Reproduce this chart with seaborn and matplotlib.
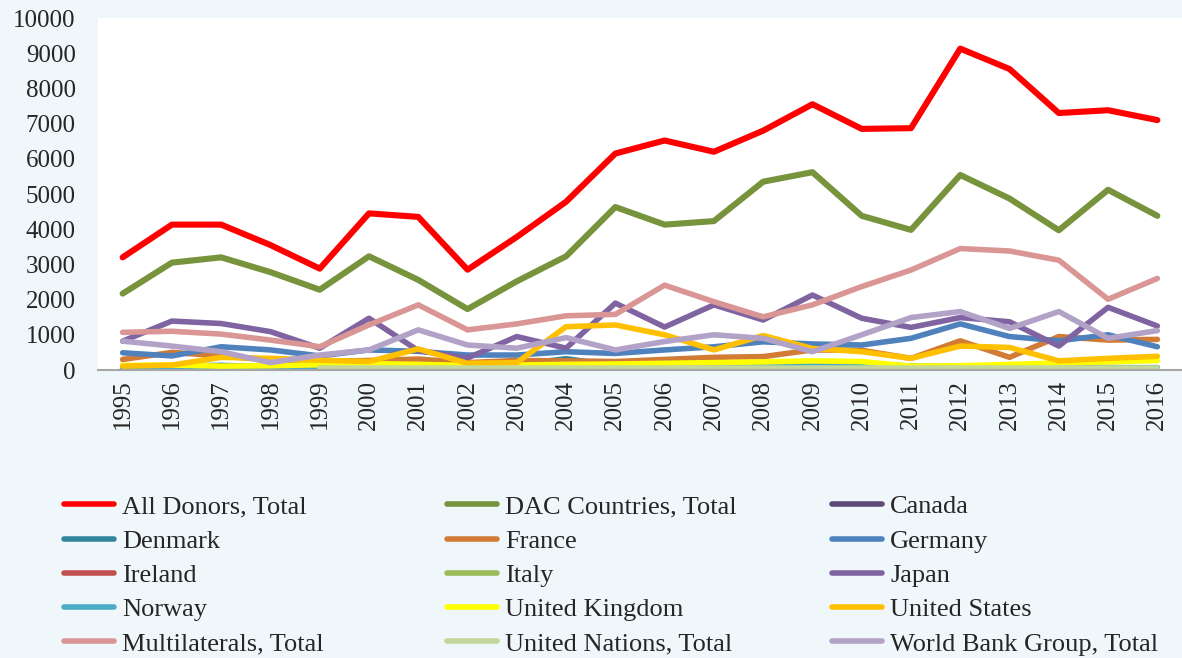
import numpy as np
import pandas as pd
import matplotlib
matplotlib.use("Agg")
import matplotlib.pyplot as plt
import seaborn as sns
from matplotlib.lines import Line2D

years = list(range(1995, 2017))

all_donors = [3200, 4130, 4130, 3550, 2880, 4450, 4350, 2850, 3780, 4780, 6150,
              6520, 6200, 6800, 7550, 6850, 6870, 9130, 8550, 7300, 7380, 7100]
dac = [2170, 3050, 3200, 2780, 2280, 3230, 2560, 1730, 2520, 3230, 4630,
       4130, 4230, 5350, 5620, 4380, 3980, 5540, 4870, 3970, 5120, 4380]
canada = [40, 50, 60, 50, 40, 50, 60, 60, 70, 80, 80,
          70, 80, 90, 90, 80, 70, 60, 60, 60, 50, 50]
denmark = [60, 120, 130, 100, 70, 90, 100, 120, 150, 320, 130,
           110, 120, 130, 140, 190, 110, 100, 90, 80, 70, 60]
france = [300, 500, 400, 280, 240, 270, 310, 210, 270, 260, 240,
          300, 360, 380, 570, 560, 330, 830, 360, 950, 850, 870]
germany = [490, 400, 660, 570, 400, 570, 530, 425, 425, 520, 470,
           570, 660, 800, 740, 710, 900, 1310, 950, 830, 1000, 660]
ireland = [5, 5, 5, 5, 5, 10, 10, 10, 15, 20, 25,
           30, 35, 40, 30, 20, 15, 15, 15, 15, 15, 15]
italy = [40, 50, 50, 60, 60, 70, 70, 60, 80, 90, 100,
         120, 130, 160, 190, 120, 90, 80, 70, 60, 60, 70]
japan = [820, 1390, 1320, 1090, 620, 1470, 550, 340, 950, 620, 1900,
         1220, 1850, 1420, 2130, 1470, 1210, 1490, 1370, 680, 1780, 1250]
norway = [30, 40, 40, 50, 50, 60, 70, 60, 70, 90, 100,
          110, 110, 120, 110, 100, 90, 90, 80, 70, 60, 60]
uk = [130, 140, 110, 120, 150, 180, 160, 130, 140, 160, 170,
      190, 210, 230, 260, 240, 110, 120, 160, 200, 230, 270]
us = [110, 140, 360, 330, 280, 240, 600, 190, 210, 1230, 1280,
      1000, 570, 980, 610, 520, 330, 680, 640, 260, 330, 390]
multilaterals = [1070, 1100, 1020, 850, 660, 1280, 1850, 1140, 1310, 1540, 1580,
                 2410, 1940, 1510, 1850, 2370, 2840, 3450, 3380, 3120, 2010, 2600]
un_total = [np.nan, np.nan, np.nan, np.nan, 60, 60, 60, 60, 60, 60, 60,
            60, 60, 60, 60, 60, 60, 60, 60, 60, 60, 60]
world_bank = [820, 680, 520, 210, 425, 570, 1140, 710, 620, 920, 570,
              810, 1000, 900, 520, 1000, 1490, 1660, 1180, 1660, 900, 1120]

series_names = ["All Donors, Total", "DAC Countries, Total", "Canada",
                "Denmark", "France", "Germany",
                "Ireland", "Italy", "Japan",
                "Norway", "United Kingdom", "United States",
                "Multilaterals, Total", "United Nations, Total", "World Bank Group, Total"]
series_values = [all_donors, dac, canada, denmark, france, germany, ireland, italy,
                 japan, norway, uk, us, multilaterals, un_total, world_bank]
colors = ["#FF0000", "#77933C", "#604A7B", "#31859C", "#D27B34", "#4F81BD",
          "#C0504D", "#9BBB59", "#8064A2", "#4BACC6", "#FFFF00", "#FFC000",
          "#D99694", "#C3D69B", "#B3A2C7"]

frames = []
for name, vals in zip(series_names, series_values):
    frames.append(pd.DataFrame({"Year": years, "Value": vals, "Series": name}))
df = pd.concat(frames, ignore_index=True)

sns.set_style("white")
plt.rcParams["font.family"] = ["Liberation Serif", "DejaVu Serif"]

bg = "#EFF7FA"
fig = plt.figure(figsize=(11.82, 6.58), dpi=100, facecolor=bg)
ax = fig.add_axes([98 / 1182, 1 - 370 / 658, 1 - 98 / 1182, (370 - 18) / 658])
ax.set_facecolor("white")

palette = dict(zip(series_names, colors))
for name in series_names:
    sub = df[df["Series"] == name]
    lw = 4.4 if name in ("All Donors, Total", "DAC Countries, Total") else 4.0
    sns.lineplot(data=sub, x="Year", y="Value", color=palette[name], ax=ax,
                 linewidth=lw, legend=False,
                 solid_capstyle="round", solid_joinstyle="round")

ax.set_xlim(1994.5, 2016.5)
ax.set_ylim(0, 10000)
ax.set_xticks(years)
ax.set_xticklabels([str(y) for y in years], rotation=90, fontsize=18)
ax.set_yticks(range(0, 10001, 1000))
ax.set_yticklabels([str(v) for v in range(0, 10001, 1000)], fontsize=18)
ax.tick_params(axis="y", length=0, pad=16)
ax.tick_params(axis="x", length=0, pad=7)
ax.set_xlabel("")
ax.set_ylabel("")
for s in ["left", "right", "top"]:
    ax.spines[s].set_visible(False)
ax.spines["bottom"].set_color("#A6A6A6")
ax.spines["bottom"].set_linewidth(1.5)

# legend: three columns of five
handles = [Line2D([0], [0], color=c, linewidth=4, solid_capstyle="round") for c in colors]
col_x = [64, 447, 832]
for ci in range(3):
    idx = [r * 3 + ci for r in range(5)]
    fig.legend([handles[i] for i in idx], [series_names[i] for i in idx],
               loc="upper left", bbox_to_anchor=(col_x[ci] / 1182, 1 - 495 / 658),
               frameon=False, fontsize=19, handlelength=1.9, handletextpad=0.3,
               labelspacing=0.41, borderaxespad=0, borderpad=0)

fig.savefig("out.png", dpi=100, facecolor=bg)
